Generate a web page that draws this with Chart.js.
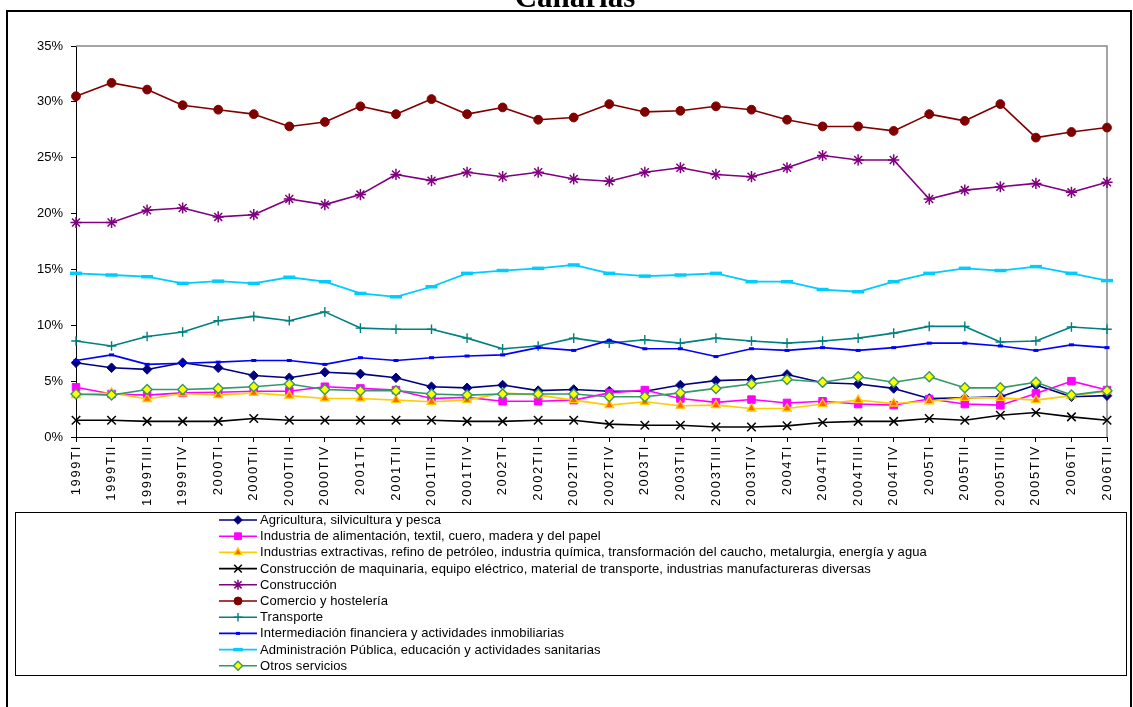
<!DOCTYPE html>
<html>
<head>
<meta charset="utf-8">
<script src="https://cdn.jsdelivr.net/npm/chart.js@4.4.0/dist/chart.umd.min.js"></script>
<style>
  html, body { margin: 0; padding: 0; background: #ffffff; overflow: hidden; }
  #wrap { width: 1133px; height: 707px; position: relative; }
  canvas { display: block; }
</style>
</head>
<body>
<div id="wrap"><canvas id="chart" width="1133" height="707"></canvas></div>
<script>
// Quarterly share of each sector (%), Canarias
const quarters = [
  '1999TI','1999TII','1999TIII','1999TIV',
  '2000TI','2000TII','2000TIII','2000TIV',
  '2001TI','2001TII','2001TIII','2001TIV',
  '2002TI','2002TII','2002TIII','2002TIV',
  '2003TI','2003TII','2003TIII','2003TIV',
  '2004TI','2004TII','2004TIII','2004TIV',
  '2005TI','2005TII','2005TIII','2005TIV',
  '2006TI','2006TII'
];

const yTicks = [0, 5, 10, 15, 20, 25, 30, 35];

const agricultura    = [6.65, 6.2, 6.05, 6.65, 6.2, 5.5, 5.3, 5.8, 5.65, 5.3, 4.5, 4.4, 4.65, 4.15, 4.25, 4.1, 4.1, 4.65, 5.05, 5.15, 5.6, 4.85, 4.75, 4.35, 3.45, 3.5, 3.6, 4.65, 3.6, 3.7];
const alimentacion   = [4.45, 3.85, 3.75, 3.95, 4.0, 4.1, 4.1, 4.5, 4.35, 4.2, 3.45, 3.55, 3.2, 3.2, 3.3, 3.95, 4.2, 3.45, 3.1, 3.35, 3.05, 3.2, 2.95, 2.85, 3.4, 2.95, 2.85, 3.9, 5.0, 4.2];
const extractivas    = [3.75, 3.95, 3.4, 3.9, 3.75, 3.95, 3.7, 3.45, 3.45, 3.3, 3.15, 3.3, 3.95, 3.75, 3.3, 2.85, 3.15, 2.8, 2.85, 2.55, 2.55, 2.95, 3.3, 3.0, 3.2, 3.5, 3.5, 3.3, 3.7, 4.1];
const maquinaria     = [1.5, 1.5, 1.4, 1.4, 1.4, 1.65, 1.5, 1.5, 1.5, 1.5, 1.5, 1.4, 1.4, 1.5, 1.5, 1.15, 1.05, 1.05, 0.9, 0.9, 1.0, 1.3, 1.4, 1.4, 1.65, 1.5, 1.95, 2.2, 1.8, 1.5];
const construccion   = [19.2, 19.2, 20.3, 20.5, 19.7, 19.9, 21.3, 20.8, 21.7, 23.5, 22.95, 23.7, 23.3, 23.7, 23.1, 22.9, 23.7, 24.1, 23.5, 23.3, 24.1, 25.2, 24.8, 24.8, 21.3, 22.1, 22.4, 22.7, 21.9, 22.8];
const comercio       = [30.5, 31.7, 31.1, 29.7, 29.3, 28.9, 27.8, 28.2, 29.6, 28.9, 30.25, 28.9, 29.5, 28.4, 28.6, 29.8, 29.1, 29.2, 29.6, 29.3, 28.4, 27.8, 27.8, 27.4, 28.9, 28.3, 29.8, 26.8, 27.3, 27.7];
const transporte     = [8.6, 8.15, 9.0, 9.4, 10.4, 10.8, 10.4, 11.2, 9.75, 9.65, 9.65, 8.85, 7.9, 8.15, 8.85, 8.4, 8.7, 8.4, 8.85, 8.6, 8.4, 8.6, 8.85, 9.3, 9.9, 9.9, 8.5, 8.6, 9.85, 9.65];
const intermediacion = [6.85, 7.35, 6.5, 6.6, 6.7, 6.85, 6.85, 6.5, 7.1, 6.85, 7.1, 7.25, 7.35, 8.0, 7.75, 8.65, 7.9, 7.9, 7.2, 7.9, 7.75, 8.0, 7.75, 8.0, 8.4, 8.4, 8.15, 7.75, 8.25, 8.0];
const administracion = [14.65, 14.5, 14.35, 13.75, 13.95, 13.75, 14.3, 13.9, 12.85, 12.55, 13.45, 14.65, 14.9, 15.1, 15.4, 14.65, 14.4, 14.5, 14.65, 13.9, 13.9, 13.2, 13.0, 13.9, 14.65, 15.1, 14.9, 15.25, 14.65, 14.0];
const otros          = [3.85, 3.75, 4.25, 4.25, 4.35, 4.5, 4.75, 4.25, 4.15, 4.15, 3.85, 3.75, 3.85, 3.85, 3.85, 3.6, 3.6, 3.95, 4.35, 4.75, 5.15, 4.9, 5.4, 4.9, 5.4, 4.4, 4.4, 4.9, 3.75, 4.15];

const seriesNames = [
  'Agricultura, silvicultura y pesca',
  'Industria de alimentación, textil, cuero, madera y del papel',
  'Industrias extractivas, refino de petróleo, industria química, transformación del caucho, metalurgia, energía y agua',
  'Construcción de maquinaria, equipo eléctrico, material de transporte, industrias manufactureras diversas',
  'Construcción',
  'Comercio y hostelería',
  'Transporte',
  'Intermediación financiera y actividades inmobiliarias',
  'Administración Pública, educación y actividades sanitarias',
  'Otros servicios'
];

const FONT = "'Liberation Sans', Arial, sans-serif";

function series(idx, data, line, style) {
  return Object.assign({
    label: seriesNames[idx],
    data: data,
    borderColor: line,
    backgroundColor: line,
    borderWidth: 1.6,
    pointBorderColor: line,
    pointBackgroundColor: line,
    pointBorderWidth: 1,
    pointRadius: 4,
    tension: 0,
    fill: false,
    clip: false,
    order: 10 - idx
  }, style);
}

const datasets = [
  series(0, agricultura, '#000080', { pointStyle: 'rectRot', pointRadius: 4.8 }),
  series(1, alimentacion, '#FF00FF', { pointStyle: 'rect', pointRadius: 5.3 }),
  series(2, extractivas, '#FFCC00', { pointStyle: 'triangle', pointRadius: 5, pointBackgroundColor: '#FF6600', pointBorderColor: '#FFCC00', pointBorderWidth: 1.3 }),
  series(3, maquinaria, '#000000', { pointStyle: 'crossRot', pointRadius: 6, pointBorderWidth: 1.5 }),
  series(4, construccion, '#800080', { pointStyle: 'star', pointRadius: 5.6, pointBorderWidth: 1.5 }),
  series(5, comercio, '#800000', { pointStyle: 'circle', pointRadius: 4.4 }),
  series(6, transporte, '#008080', { pointStyle: 'cross', pointRadius: 4.8, pointBorderWidth: 1.4 }),
  series(7, intermediacion, '#0000FF', { pointStyle: 'line', pointRadius: 2.5, pointBorderWidth: 3 }),
  series(8, administracion, '#00CCFF', { pointStyle: 'line', pointRadius: 6, pointBorderWidth: 3.5, borderWidth: 1.8 }),
  series(9, otros, '#339966', { pointStyle: 'rectRot', pointRadius: 5, pointBackgroundColor: '#FFFF00', pointBorderColor: '#339966', pointBorderWidth: 1.4 })
];

// Wider character spacing on the rotated quarter labels
const spacedLabels = {
  id: 'spacedLabels',
  beforeDraw(chart) {
    const s = chart.scales.x;
    if (s && !s._spaced) {
      const orig = s.drawLabels.bind(s);
      s.drawLabels = function (area) {
        const ctx = this.ctx;
        const prev = ctx.letterSpacing;
        ctx.letterSpacing = '1.65px';
        orig(area);
        ctx.letterSpacing = prev || '0px';
      };
      s._spaced = true;
    }
  }
};

// Grey top/right edge of the plot, outer frame, title and legend box
const decorations = {
  id: 'decorations',
  beforeDatasetsDraw(chart) {
    const { ctx, chartArea: a } = chart;
    ctx.save();
    ctx.strokeStyle = '#888888';
    ctx.lineWidth = 1.5;
    ctx.beginPath();
    ctx.moveTo(a.left, a.top);
    ctx.lineTo(a.right, a.top);
    ctx.lineTo(a.right, a.bottom);
    ctx.stroke();
    ctx.restore();
  },
  afterDraw(chart) {
    const ctx = chart.ctx;
    ctx.save();
    // outer frame (runs past the lower edge of the page)
    ctx.strokeStyle = '#000';
    ctx.lineWidth = 2;
    ctx.strokeRect(7, 11, 1124, 710);
    // title
    ctx.fillStyle = '#000';
    ctx.font = "bold 31px 'Liberation Serif', 'Times New Roman', serif";
    ctx.textAlign = 'center';
    ctx.textBaseline = 'alphabetic';
    ctx.fillText('Canarias', 575, 7);
    // legend box
    ctx.lineWidth = 1;
    ctx.strokeStyle = '#000';
    ctx.strokeRect(15.5, 512.5, 1111, 163);
    const x0 = 219, x1 = 257, tx = 260, y0 = 520, dy = 16.2;
    ctx.font = '13px ' + FONT;
    ctx.letterSpacing = '0.08px';
    ctx.textAlign = 'left';
    ctx.textBaseline = 'middle';
    chart.data.datasets.forEach((ds, i) => {
      const y = y0 + i * dy;
      ctx.strokeStyle = ds.borderColor;
      ctx.lineWidth = ds.borderWidth;
      ctx.beginPath();
      ctx.moveTo(x0, y);
      ctx.lineTo(x1, y);
      ctx.stroke();
      ctx.fillStyle = ds.pointBackgroundColor;
      ctx.strokeStyle = ds.pointBorderColor;
      ctx.lineWidth = ds.pointBorderWidth;
      if (Chart.helpers && Chart.helpers.drawPoint) {
        Chart.helpers.drawPoint(ctx, {
          pointStyle: ds.pointStyle,
          radius: ds.pointStyle === 'line' ? ds.pointRadius * 0.8 : ds.pointRadius * 0.9,
          borderWidth: ds.pointBorderWidth,
          rotation: 0
        }, (x0 + x1) / 2, y);
      }
      ctx.fillStyle = '#000';
      ctx.fillText(ds.label, tx, y + 0.5);
    });
    ctx.restore();
  }
};

new Chart(document.getElementById('chart'), {
  type: 'line',
  data: { labels: quarters, datasets: datasets },
  options: {
    responsive: false,
    animation: false,
    devicePixelRatio: 1,
    layout: { padding: { top: 46, right: 26, left: 0, bottom: 195 } },
    plugins: {
      legend: { display: false },
      tooltip: { enabled: false },
      title: { display: false }
    },
    elements: { line: { borderJoinStyle: 'round' } },
    scales: {
      x: {
        type: 'category',
        offset: false,
        grid: { drawOnChartArea: false, drawTicks: true, tickLength: 5, color: '#000' },
        border: { display: true, color: '#000', width: 1 },
        ticks: {
          autoSkip: false,
          minRotation: 90,
          maxRotation: 90,
          padding: 3,
          color: '#000',
          font: { family: FONT, size: 13 }
        },
        afterFit(scale) { scale.height = 75; }
      },
      y: {
        min: yTicks[0],
        max: yTicks[yTicks.length - 1],
        afterBuildTicks(scale) { scale.ticks = yTicks.map(v => ({ value: v })); },
        grid: { drawOnChartArea: false, drawTicks: true, tickLength: 5, color: '#000' },
        border: { display: true, color: '#000', width: 1 },
        ticks: {
          padding: 8,
          color: '#000',
          font: { family: FONT, size: 13 },
          callback: v => v + '%'
        },
        afterFit(scale) { scale.width = 76; }
      }
    }
  },
  plugins: [spacedLabels, decorations]
});
</script>
</body>
</html>
